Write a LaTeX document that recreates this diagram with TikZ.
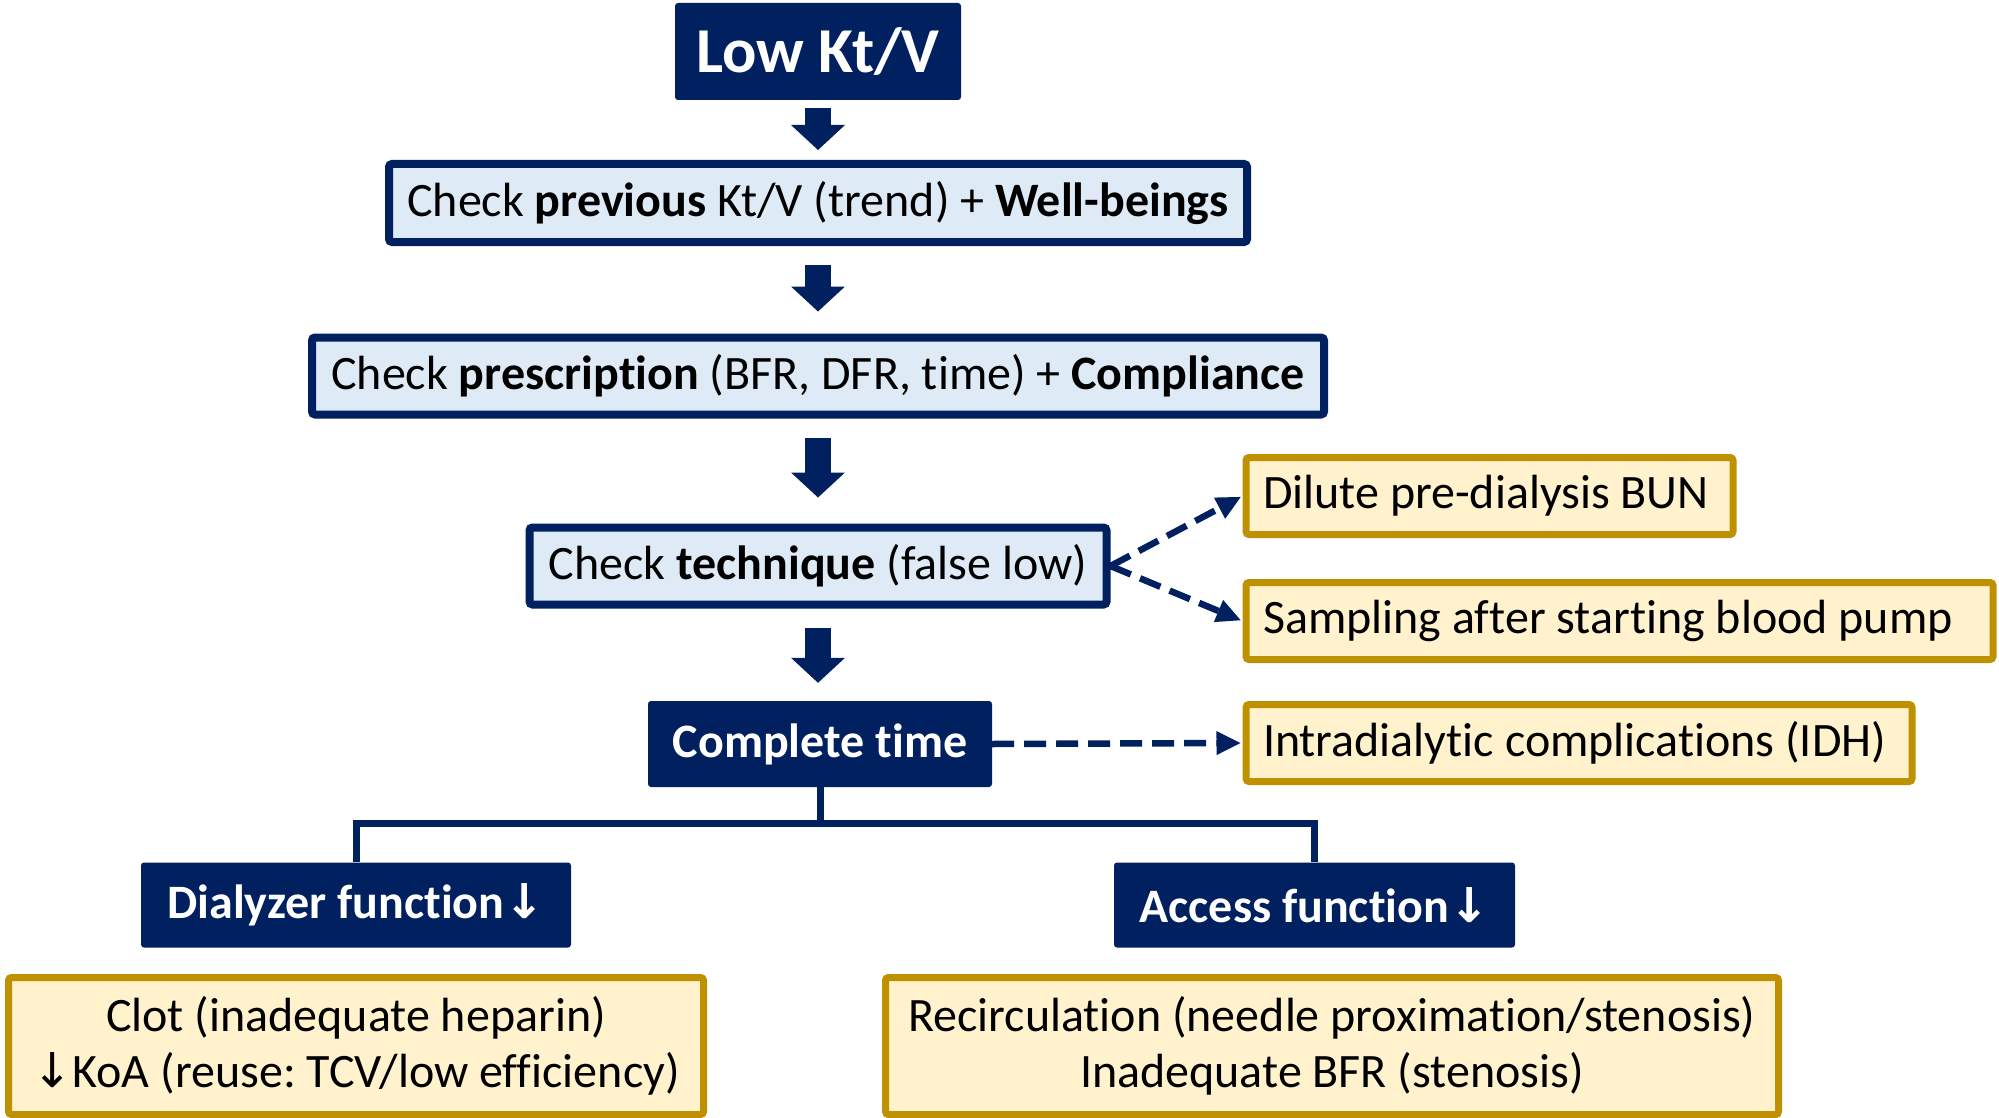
\documentclass[tikz,border=0pt]{standalone}
\usepackage{fontspec}
\setmainfont{Carlito}[Ligatures=NoCommon]
\newfontfamily\arrowfont{DejaVu Sans}
\usetikzlibrary{arrows.meta}
\frenchspacing

\definecolor{navy}{HTML}{002060}
\definecolor{paleblue}{HTML}{DEEBF7}
\definecolor{gold}{HTML}{BF9000}
\definecolor{cream}{HTML}{FFF2CC}

\begin{document}
\begin{tikzpicture}[x=1pt, y=-1pt,
    dark/.style={fill=navy, text=white, font=\bfseries\fontsize{48}{56}\selectfont, rounded corners=3pt, inner sep=0pt},
    check/.style={draw=navy, line width=8pt, fill=paleblue, font=\fontsize{48}{56}\selectfont, rounded corners=3pt, inner sep=0pt},
    cause/.style={draw=gold, line width=7pt, fill=cream, font=\fontsize{48}{56}\selectfont, rounded corners=3pt, inner xsep=17pt, inner ysep=0pt},
    down/.style={draw=navy, fill=navy, line width=26pt, -{Triangle[length=25pt, width=54pt, line width=0pt]}},
    side/.style={draw=navy, line width=6.5pt, dash pattern=on 22pt off 10pt, -{Triangle[length=24pt, width=24pt, line width=0pt]}, shorten >=2pt},
    branch/.style={draw=navy, line width=7pt}]
  \useasboundingbox (0,0) rectangle (1999,1118);

  % main column
  \node[dark, font=\bfseries\fontsize{64}{72}\selectfont, minimum width=286pt, minimum height=97pt] (low) at (818,51.5) {Low Kt/V};
  \node[check, minimum width=858pt, minimum height=78pt] (prev) at (818,203) {Check \textbf{previous} Kt/V (trend) + \textbf{Well-beings}};
  \node[check, minimum width=1012pt, minimum height=77pt] (presc) at (818,376) {Check \textbf{prescription} (BFR, DFR, time) + \textbf{Compliance}};
  \node[check, minimum width=577pt, minimum height=77pt] (tech) at (818,566) {Check \textbf{technique} (false low)};
  \node[dark, minimum width=344pt, minimum height=86pt] (ctime) at (820,744) {Complete time};

  % side causes
  \node[cause, anchor=west, text width=453pt, align=flush left, minimum height=77pt] (dilute) at (1242.5,496) {Dilute pre-dialysis BUN};
  \node[cause, anchor=west, text width=713pt, align=flush left, minimum height=77pt] (sampling) at (1242.5,621) {Sampling after starting blood pump};
  \node[cause, anchor=west, text width=632pt, align=flush left, minimum height=77pt] (intra) at (1242.5,743) {Intradialytic complications (IDH)};

  % branches
  \node[dark, minimum width=430pt, minimum height=85pt] (dial) at (356,905) {Dialyzer function{\arrowfont ↓}};
  \node[dark, minimum width=401pt, minimum height=85pt] (acc) at (1314.5,905) {Access function{\arrowfont ↓}};
  \node[cause, inner xsep=0pt, align=flush center, minimum width=695pt, minimum height=137pt] (clot) at (356,1046) {Clot (inadequate heparin)\\{\arrowfont ↓}KoA (reuse: TCV/low efficiency)};
  \node[cause, inner xsep=0pt, align=flush center, minimum width=893pt, minimum height=137pt] (recirc) at (1332,1046) {Recirculation (needle proximation/stenosis)\\Inadequate BFR (stenosis)};

  \draw[down, shorten <=8pt, shorten >=10pt] (low.south) -- (low.south |- prev.north);
  \draw[down, shorten <=19pt, shorten >=22pt] (prev.south) -- (prev.south |- presc.north);
  \draw[down, shorten <=19pt, shorten >=26pt] (presc.south) -- (presc.south |- tech.north);
  \draw[down, shorten <=19pt, shorten >=18pt] (tech.south) -- (tech.south |- ctime.north);

  \draw[side] (tech.east) -- (dilute.west);
  \draw[side] (tech.east) -- (sampling.west);
  \draw[side] (ctime.east) -- (intra.west);

  \draw[branch] (ctime.south) -- ++(0,36) -| (dial.north);
  \draw[branch] (ctime.south) -- ++(0,36) -| (acc.north);
\end{tikzpicture}
\end{document}
